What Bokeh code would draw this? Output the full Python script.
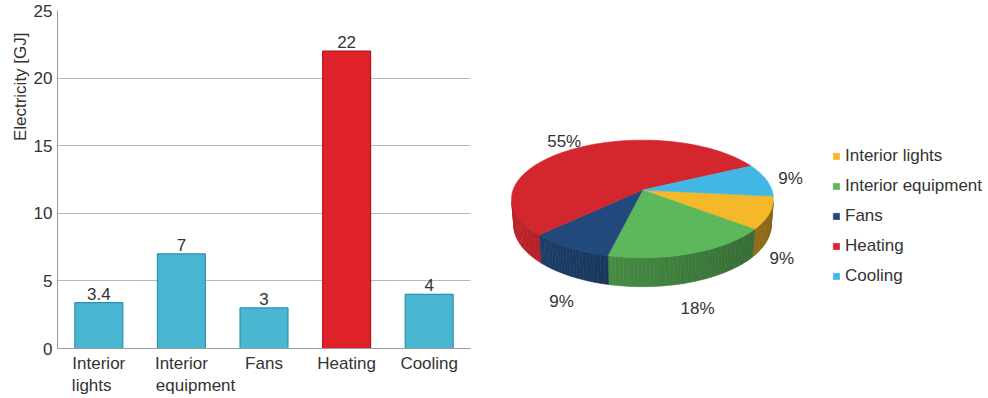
import numpy as np
from bokeh.plotting import figure
from bokeh.models import Range1d, FixedTicker, Legend, LegendItem, Title
from bokeh.layouts import row
from bokeh.embed import file_html
from bokeh.resources import INLINE
from bokeh.core.properties import value

# ---- data -------------------------------------------------------------
categories = ["Interior lights", "Interior equipment", "Fans", "Heating", "Cooling"]
tick_labels = ["Interior\nlights", "Interior\nequipment", "Fans", "Heating", "Cooling"]
electricity_gj = [3.4, 7, 3, 22, 4]
value_labels = ["3.4", "7", "3", "22", "4"]
share_pct = [9, 18, 9, 55, 9]
y_ticks = [0, 5, 10, 15, 20, 25]

# ---- style ------------------------------------------------------------
FONT = "Liberation Sans"
TEXT = "#333333"
FS = "17px"
NBSP = "\u00a0"
bar_fill = ["#49b6d2", "#49b6d2", "#49b6d2", "#df2229", "#49b6d2"]
bar_edge = ["#2e90ad", "#2e90ad", "#2e90ad", "#b3191f", "#2e90ad"]
pie_colors = ["#f5b82b", "#5cb85a", "#22497b", "#d4262e", "#43b7e4"]

# wrapped tick labels: second line starts under the first one
tick_display = ["Interior\nlights" + NBSP * 3,
                "Interior\n" + NBSP * 6 + "equipment",
                "Fans", "Heating", "Cooling"]

FRAME_TOP, FRAME_BOTTOM = 10, 49   # shared by both figures of the row

# ---- bar chart --------------------------------------------------------
n = len(categories)
xs = list(range(n))
p1 = figure(width=490, height=398, x_range=Range1d(-0.5, n - 0.5), y_range=Range1d(0, 25),
            output_backend="svg", toolbar_location=None,
            min_border_left=57, min_border_right=20,
            min_border_top=FRAME_TOP, min_border_bottom=FRAME_BOTTOM)
p1.outline_line_color = None
p1.background_fill_color = "white"
p1.xgrid.visible = False
p1.ygrid.ticker = FixedTicker(ticks=y_ticks)
p1.ygrid.grid_line_color = "#b8b8b8"

yax = p1.yaxis[0]
yax.ticker = FixedTicker(ticks=y_ticks)
yax.major_tick_out = 0
yax.major_tick_in = 0
yax.minor_tick_line_color = None
yax.axis_line_color = "#9a9a9a"
yax.major_label_standoff = 5
yax.major_label_text_font = FONT
yax.major_label_text_font_size = FS
yax.major_label_text_color = TEXT

xax = p1.xaxis[0]
xax.ticker = FixedTicker(ticks=xs)
xax.major_label_overrides = {i: t for i, t in enumerate(tick_display)}
xax.major_tick_out = 0
xax.major_tick_in = 0
xax.minor_tick_line_color = None
xax.axis_line_color = "#9a9a9a"
xax.major_label_standoff = 5
xax.major_label_text_font = FONT
xax.major_label_text_font_size = FS
xax.major_label_text_color = TEXT

p1.add_layout(Title(text="Electricity [GJ]", align="right", offset=22, standoff=2,
                    text_font=FONT, text_font_size=FS, text_font_style="normal",
                    text_color=TEXT), "left")

p1.vbar(x=xs, top=electricity_gj, width=0.58, fill_color=bar_fill,
        line_color=bar_edge, line_width=1.2)
p1.text(x=xs, y=electricity_gj, text=value_labels, text_align="center",
        text_baseline="bottom", y_offset=-3, text_font=value(FONT),
        text_font_size=FS, text_color=TEXT)

# ---- 3D pie chart -----------------------------------------------------
# ranges in page pixels: x from the left edge of this figure, y downwards
p2 = figure(width=498, height=398, x_range=Range1d(0, 498),
            y_range=Range1d(398 - FRAME_BOTTOM, FRAME_TOP),
            output_backend="svg", toolbar_location=None,
            min_border_left=0, min_border_right=0,
            min_border_top=FRAME_TOP, min_border_bottom=FRAME_BOTTOM,
            x_axis_type=None, y_axis_type=None)
p2.grid.visible = False
p2.outline_line_color = None

CX, CY = 152.0, 190.0      # screen position of the pie centre
FOCAL = 761.0
DIST = 5.88
TILT_S = 0.445
TILT_C = np.sqrt(1 - TILT_S ** 2)
THICK = 0.227
START_DEG = -6.0           # slices run clockwise from here


def project(X, Y, Z):
    depth = DIST + Y * TILT_C - Z * TILT_S
    up = Y * TILT_S + Z * TILT_C
    return CX + FOCAL * X / depth, CY - FOCAL * up / depth


def shade(hex_color, f):
    h = hex_color.lstrip("#")
    r, g, b = (int(h[k:k + 2], 16) for k in (0, 2, 4))
    return "#%02x%02x%02x" % (int(r * f), int(g * f), int(b * f))


frac = np.array(share_pct, dtype=float) / sum(share_pct)
edges = START_DEG - 360.0 * np.concatenate([[0.0], np.cumsum(frac)])

# part of the outer wall that faces the camera
delta = np.degrees(np.arcsin(1.0 / (DIST * TILT_C)))
visible = [(-180 + delta - 360 * k, -delta - 360 * k) for k in (0, 1)]

side_x, side_y, side_c = [], [], []
top_x, top_y = [], []
lab_x, lab_y, lab_t = [], [], []
for k in range(n):
    a0, a1 = edges[k], edges[k + 1]          # a1 < a0
    th = np.radians(np.linspace(a1, a0, 80))
    rx, ry = project(np.cos(th), np.sin(th), 0 * th)
    top_x.append([CX] + list(rx))
    top_y.append([CY] + list(ry))

    for lo, hi in visible:
        s_lo, s_hi = max(a1, lo), min(a0, hi)
        if s_hi <= s_lo:
            continue
        segs = np.linspace(s_lo, s_hi, max(2, int((s_hi - s_lo) / 1.5) + 2))
        for u, v in zip(segs[:-1], segs[1:]):
            tu, tv = np.radians(u), np.radians(v)
            x1, y1 = project(np.cos(tu), np.sin(tu), 0.0)
            x2, y2 = project(np.cos(tv), np.sin(tv), 0.0)
            x3, y3 = project(np.cos(tv), np.sin(tv), -THICK)
            x4, y4 = project(np.cos(tu), np.sin(tu), -THICK)
            side_x.append([x1, x2, x3, x4])
            side_y.append([y1, y2, y3, y4])
            mid = np.radians((u + v) / 2)
            side_c.append(shade(pie_colors[k], 0.55 + 0.35 * (1 - np.cos(mid)) / 2))

    m = np.radians((a0 + a1) / 2)
    if np.sin(m) >= 0:
        lx, ly = project(1.2 * np.cos(m), 1.2 * np.sin(m), 0.0)
    else:
        lx, ly = project(1.12 * np.cos(m), 1.12 * np.sin(m), -1.6 * THICK)
    lab_x.append(lx)
    lab_y.append(ly)
    lab_t.append(f"{share_pct[k]}%")

p2.patches(xs=side_x, ys=side_y, fill_color=side_c, line_color=side_c, line_width=0.6)
tops = p2.patches(xs=top_x, ys=top_y, fill_color=pie_colors, line_color=pie_colors,
                  line_width=0.6)
p2.text(x=lab_x, y=lab_y, text=lab_t, text_align="center", text_baseline="middle",
        text_font=value(FONT), text_font_size=FS, text_color=TEXT)

legend = Legend(items=[LegendItem(label=c, renderers=[tops], index=i)
                       for i, c in enumerate(categories)],
                location=(342, 62), glyph_width=8, glyph_height=8, label_standoff=5,
                spacing=10, label_height=20, padding=0, margin=0,
                border_line_color=None, background_fill_alpha=0,
                label_text_font=FONT, label_text_font_size=FS, label_text_color=TEXT)
p2.add_layout(legend)

layout = row(p1, p2)
open("out.html", "w").write(file_html(layout, INLINE))
